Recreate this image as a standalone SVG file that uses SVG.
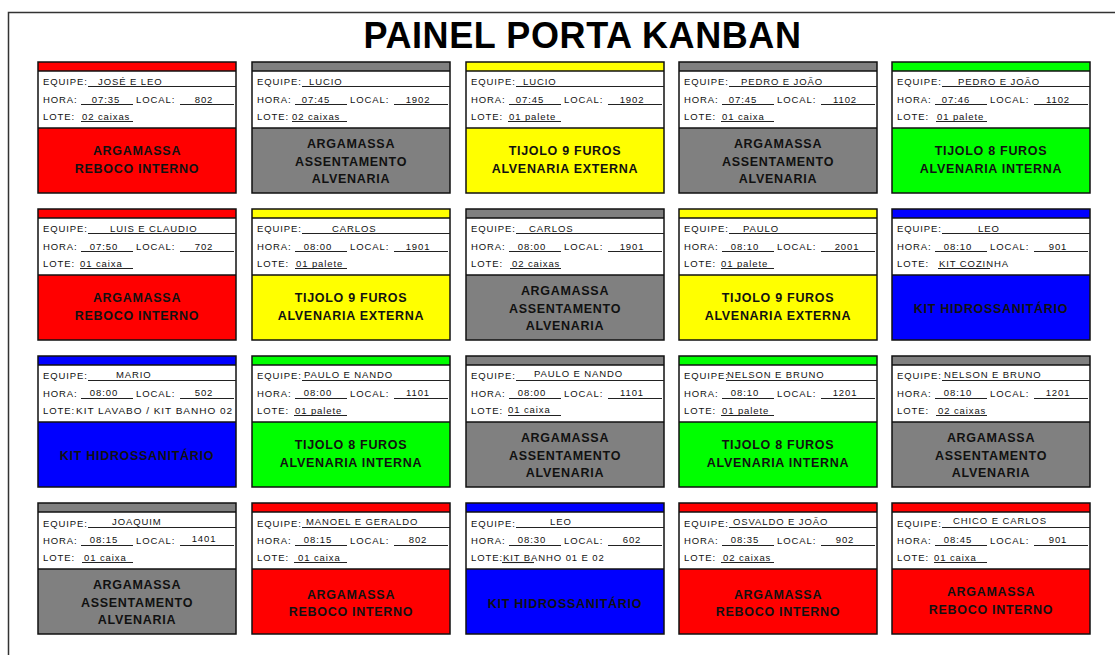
<svg xmlns="http://www.w3.org/2000/svg" width="1115" height="655" viewBox="0 0 1115 655">
<style>
.bg{fill:#fff}
.frame{fill:none;stroke:#111;stroke-width:1.5}
.outer{fill:none;stroke:#333;stroke-width:1.5}
.sep{stroke:#111;stroke-width:1.3}
.ul{stroke:#222;stroke-width:1.1}
.white{fill:#fff}
.red{fill:#ff0000}
.gray{fill:#808080}
.yellow{fill:#ffff00}
.green{fill:#00ff00}
.blue{fill:#0000ff}
.title{font-family:"Liberation Sans",Arial,sans-serif;font-weight:bold;font-size:36px;letter-spacing:0.6px;fill:#000;text-anchor:middle}
.t{font-family:"Liberation Sans",Arial,sans-serif;font-size:9.5px;letter-spacing:0.9px;fill:#111}
.m{text-anchor:middle}
.b{font-family:"Liberation Sans",Arial,sans-serif;font-weight:bold;font-size:12.5px;letter-spacing:0.7px;fill:#111;text-anchor:middle}
</style>
<rect class="bg" x="0" y="0" width="1115" height="655"/>
<path class="outer" d="M8.5,655 V12.5 H1115"/>
<text class="title" x="582.5" y="48">PAINEL PORTA KANBAN</text>
<g id="connectors"/>

<!-- Row 1 -->
<g id="card-r1c1" transform="translate(38,62)">
<rect class="red" width="198" height="9"/><rect class="white" y="9" width="198" height="57"/><rect class="red" y="66" width="198" height="65"/>
<line class="sep" x1="0" y1="9" x2="198" y2="9"/><line class="sep" x1="0" y1="66" x2="198" y2="66"/><rect class="frame" width="198" height="131"/>
<text class="t" x="5" y="22.5">EQUIPE:</text><text class="t" x="60" y="22.5">JOSÉ E LEO</text><line class="ul" x1="50" y1="24.5" x2="198" y2="24.5"/>
<text class="t" x="5" y="40.5">HORA:</text><text class="t m" x="68" y="40.5">07:35</text><line class="ul" x1="43" y1="42.5" x2="95" y2="42.5"/>
<text class="t" x="98" y="40.5">LOCAL:</text><text class="t m" x="166" y="40.5">802</text><line class="ul" x1="142" y1="42.5" x2="196" y2="42.5"/>
<text class="t" x="5" y="57.5">LOTE:</text><text class="t" x="44" y="57.5">02 caixas</text><line class="ul" x1="43" y1="59.5" x2="95" y2="59.5"/>
<text class="b" x="99" y="93">ARGAMASSA</text><text class="b" x="99" y="111">REBOCO INTERNO</text>
</g>
<g id="card-r1c2" transform="translate(252,62)">
<rect class="gray" width="198" height="9"/><rect class="white" y="9" width="198" height="57"/><rect class="gray" y="66" width="198" height="65"/>
<line class="sep" x1="0" y1="9" x2="198" y2="9"/><line class="sep" x1="0" y1="66" x2="198" y2="66"/><rect class="frame" width="198" height="131"/>
<text class="t" x="5" y="22.5">EQUIPE:</text><text class="t" x="57" y="22.5">LUCIO</text><line class="ul" x1="50" y1="24.5" x2="198" y2="24.5"/>
<text class="t" x="5" y="40.5">HORA:</text><text class="t m" x="64" y="40.5">07:45</text><line class="ul" x1="43" y1="42.5" x2="95" y2="42.5"/>
<text class="t" x="98" y="40.5">LOCAL:</text><text class="t m" x="166" y="40.5">1902</text><line class="ul" x1="142" y1="42.5" x2="196" y2="42.5"/>
<text class="t" x="5" y="57.5">LOTE:</text><text class="t" x="40" y="57.5">02 caixas</text><line class="ul" x1="40" y1="59.5" x2="95" y2="59.5"/>
<text class="b" x="99" y="86">ARGAMASSA</text><text class="b" x="99" y="104">ASSENTAMENTO</text><text class="b" x="99" y="121">ALVENARIA</text>
</g>
<g id="card-r1c3" transform="translate(466,62)">
<rect class="yellow" width="198" height="9"/><rect class="white" y="9" width="198" height="57"/><rect class="yellow" y="66" width="198" height="65"/>
<line class="sep" x1="0" y1="9" x2="198" y2="9"/><line class="sep" x1="0" y1="66" x2="198" y2="66"/><rect class="frame" width="198" height="131"/>
<text class="t" x="5" y="22.5">EQUIPE:</text><text class="t" x="57" y="22.5">LUCIO</text><line class="ul" x1="50" y1="24.5" x2="198" y2="24.5"/>
<text class="t" x="5" y="40.5">HORA:</text><text class="t m" x="64" y="40.5">07:45</text><line class="ul" x1="43" y1="42.5" x2="95" y2="42.5"/>
<text class="t" x="98" y="40.5">LOCAL:</text><text class="t m" x="166" y="40.5">1902</text><line class="ul" x1="142" y1="42.5" x2="196" y2="42.5"/>
<text class="t" x="5" y="57.5">LOTE:</text><text class="t" x="43" y="57.5">01 palete</text><line class="ul" x1="42" y1="59.5" x2="95" y2="59.5"/>
<text class="b" x="99" y="93">TIJOLO 9 FUROS</text><text class="b" x="99" y="111">ALVENARIA EXTERNA</text>
</g>
<g id="card-r1c4" transform="translate(679,62)">
<rect class="gray" width="198" height="9"/><rect class="white" y="9" width="198" height="57"/><rect class="gray" y="66" width="198" height="65"/>
<line class="sep" x1="0" y1="9" x2="198" y2="9"/><line class="sep" x1="0" y1="66" x2="198" y2="66"/><rect class="frame" width="198" height="131"/>
<text class="t" x="5" y="22.5">EQUIPE:</text><text class="t" x="62" y="22.5">PEDRO E JOÃO</text><line class="ul" x1="50" y1="24.5" x2="198" y2="24.5"/>
<text class="t" x="5" y="40.5">HORA:</text><text class="t m" x="64" y="40.5">07:45</text><line class="ul" x1="43" y1="42.5" x2="95" y2="42.5"/>
<text class="t" x="98" y="40.5">LOCAL:</text><text class="t m" x="166" y="40.5">1102</text><line class="ul" x1="142" y1="42.5" x2="196" y2="42.5"/>
<text class="t" x="5" y="57.5">LOTE:</text><text class="t" x="43" y="57.5">01 caixa</text><line class="ul" x1="42" y1="59.5" x2="95" y2="59.5"/>
<text class="b" x="99" y="86">ARGAMASSA</text><text class="b" x="99" y="104">ASSENTAMENTO</text><text class="b" x="99" y="121">ALVENARIA</text>
</g>
<g id="card-r1c5" transform="translate(892,62)">
<rect class="green" width="198" height="9"/><rect class="white" y="9" width="198" height="57"/><rect class="green" y="66" width="198" height="65"/>
<line class="sep" x1="0" y1="9" x2="198" y2="9"/><line class="sep" x1="0" y1="66" x2="198" y2="66"/><rect class="frame" width="198" height="131"/>
<text class="t" x="5" y="22.5">EQUIPE:</text><text class="t" x="66" y="22.5">PEDRO E JOÃO</text><line class="ul" x1="50" y1="24.5" x2="198" y2="24.5"/>
<text class="t" x="5" y="40.5">HORA:</text><text class="t m" x="64" y="40.5">07:46</text><line class="ul" x1="43" y1="42.5" x2="95" y2="42.5"/>
<text class="t" x="98" y="40.5">LOCAL:</text><text class="t m" x="166" y="40.5">1102</text><line class="ul" x1="142" y1="42.5" x2="196" y2="42.5"/>
<text class="t" x="5" y="57.5">LOTE:</text><text class="t" x="45" y="57.5">01 palete</text><line class="ul" x1="44" y1="59.5" x2="95" y2="59.5"/>
<text class="b" x="99" y="93">TIJOLO 8 FUROS</text><text class="b" x="99" y="111">ALVENARIA INTERNA</text>
</g>

<!-- Row 2 -->
<g id="card-r2c1" transform="translate(38,209)">
<rect class="red" width="198" height="9"/><rect class="white" y="9" width="198" height="57"/><rect class="red" y="66" width="198" height="65"/>
<line class="sep" x1="0" y1="9" x2="198" y2="9"/><line class="sep" x1="0" y1="66" x2="198" y2="66"/><rect class="frame" width="198" height="131"/>
<text class="t" x="5" y="22.5">EQUIPE:</text><text class="t" x="72" y="22.5">LUIS E CLAUDIO</text><line class="ul" x1="50" y1="24.5" x2="198" y2="24.5"/>
<text class="t" x="5" y="40.5">HORA:</text><text class="t m" x="66" y="40.5">07:50</text><line class="ul" x1="43" y1="42.5" x2="95" y2="42.5"/>
<text class="t" x="98" y="40.5">LOCAL:</text><text class="t m" x="166" y="40.5">702</text><line class="ul" x1="142" y1="42.5" x2="196" y2="42.5"/>
<text class="t" x="5" y="57.5">LOTE:</text><text class="t" x="42" y="57.5">01 caixa</text><line class="ul" x1="42" y1="59.5" x2="95" y2="59.5"/>
<text class="b" x="99" y="93">ARGAMASSA</text><text class="b" x="99" y="111">REBOCO INTERNO</text>
</g>
<g id="card-r2c2" transform="translate(252,209)">
<rect class="yellow" width="198" height="9"/><rect class="white" y="9" width="198" height="57"/><rect class="yellow" y="66" width="198" height="65"/>
<line class="sep" x1="0" y1="9" x2="198" y2="9"/><line class="sep" x1="0" y1="66" x2="198" y2="66"/><rect class="frame" width="198" height="131"/>
<text class="t" x="5" y="22.5">EQUIPE:</text><text class="t" x="80" y="22.5">CARLOS</text><line class="ul" x1="50" y1="24.5" x2="198" y2="24.5"/>
<text class="t" x="5" y="40.5">HORA:</text><text class="t m" x="66" y="40.5">08:00</text><line class="ul" x1="43" y1="42.5" x2="95" y2="42.5"/>
<text class="t" x="98" y="40.5">LOCAL:</text><text class="t m" x="166" y="40.5">1901</text><line class="ul" x1="142" y1="42.5" x2="196" y2="42.5"/>
<text class="t" x="5" y="57.5">LOTE:</text><text class="t" x="44" y="57.5">01 palete</text><line class="ul" x1="43" y1="59.5" x2="95" y2="59.5"/>
<text class="b" x="99" y="93">TIJOLO 9 FUROS</text><text class="b" x="99" y="111">ALVENARIA EXTERNA</text>
</g>
<g id="card-r2c3" transform="translate(466,209)">
<rect class="gray" width="198" height="9"/><rect class="white" y="9" width="198" height="57"/><rect class="gray" y="66" width="198" height="65"/>
<line class="sep" x1="0" y1="9" x2="198" y2="9"/><line class="sep" x1="0" y1="66" x2="198" y2="66"/><rect class="frame" width="198" height="131"/>
<text class="t" x="5" y="22.5">EQUIPE:</text><text class="t" x="63" y="22.5">CARLOS</text><line class="ul" x1="50" y1="24.5" x2="198" y2="24.5"/>
<text class="t" x="5" y="40.5">HORA:</text><text class="t m" x="66" y="40.5">08:00</text><line class="ul" x1="43" y1="42.5" x2="95" y2="42.5"/>
<text class="t" x="98" y="40.5">LOCAL:</text><text class="t m" x="166" y="40.5">1901</text><line class="ul" x1="142" y1="42.5" x2="196" y2="42.5"/>
<text class="t" x="5" y="57.5">LOTE:</text><text class="t" x="46" y="57.5">02 caixas</text><line class="ul" x1="44" y1="59.5" x2="95" y2="59.5"/>
<text class="b" x="99" y="86">ARGAMASSA</text><text class="b" x="99" y="104">ASSENTAMENTO</text><text class="b" x="99" y="121">ALVENARIA</text>
</g>
<g id="card-r2c4" transform="translate(679,209)">
<rect class="yellow" width="198" height="9"/><rect class="white" y="9" width="198" height="57"/><rect class="yellow" y="66" width="198" height="65"/>
<line class="sep" x1="0" y1="9" x2="198" y2="9"/><line class="sep" x1="0" y1="66" x2="198" y2="66"/><rect class="frame" width="198" height="131"/>
<text class="t" x="5" y="22.5">EQUIPE:</text><text class="t" x="64" y="22.5">PAULO</text><line class="ul" x1="50" y1="24.5" x2="198" y2="24.5"/>
<text class="t" x="5" y="40.5">HORA:</text><text class="t m" x="66" y="40.5">08:10</text><line class="ul" x1="43" y1="42.5" x2="95" y2="42.5"/>
<text class="t" x="98" y="40.5">LOCAL:</text><text class="t m" x="168" y="40.5">2001</text><line class="ul" x1="142" y1="42.5" x2="196" y2="42.5"/>
<text class="t" x="5" y="57.5">LOTE:</text><text class="t" x="42" y="57.5">01 palete</text><line class="ul" x1="42" y1="59.5" x2="95" y2="59.5"/>
<text class="b" x="99" y="93">TIJOLO 9 FUROS</text><text class="b" x="99" y="111">ALVENARIA EXTERNA</text>
</g>
<g id="card-r2c5" transform="translate(892,209)">
<rect class="blue" width="198" height="9"/><rect class="white" y="9" width="198" height="57"/><rect class="blue" y="66" width="198" height="65"/>
<line class="sep" x1="0" y1="9" x2="198" y2="9"/><line class="sep" x1="0" y1="66" x2="198" y2="66"/><rect class="frame" width="198" height="131"/>
<text class="t" x="5" y="22.5">EQUIPE:</text><text class="t" x="86" y="22.5">LEO</text><line class="ul" x1="50" y1="24.5" x2="198" y2="24.5"/>
<text class="t" x="5" y="40.5">HORA:</text><text class="t m" x="66" y="40.5">08:10</text><line class="ul" x1="43" y1="42.5" x2="95" y2="42.5"/>
<text class="t" x="98" y="40.5">LOCAL:</text><text class="t m" x="166" y="40.5">901</text><line class="ul" x1="142" y1="42.5" x2="196" y2="42.5"/>
<text class="t" x="5" y="57.5">LOTE:</text><text class="t" x="47" y="57.5">KIT COZINHA</text><line class="ul" x1="46" y1="59.5" x2="98" y2="59.5"/>
<text class="b" x="99" y="104">KIT HIDROSSANITÁRIO</text>
</g>

<!-- Row 3 -->
<g id="card-r3c1" transform="translate(38,356)">
<rect class="blue" width="198" height="9"/><rect class="white" y="9" width="198" height="57"/><rect class="blue" y="66" width="198" height="65"/>
<line class="sep" x1="0" y1="9" x2="198" y2="9"/><line class="sep" x1="0" y1="66" x2="198" y2="66"/><rect class="frame" width="198" height="131"/>
<text class="t" x="5" y="22.5">EQUIPE:</text><text class="t" x="78" y="21.5">MARIO</text><line class="ul" x1="50" y1="24.5" x2="198" y2="24.5"/>
<text class="t" x="5" y="40.5">HORA:</text><text class="t m" x="66" y="39.5">08:00</text><line class="ul" x1="43" y1="42.5" x2="95" y2="42.5"/>
<text class="t" x="98" y="40.5">LOCAL:</text><text class="t m" x="166" y="39.5">502</text><line class="ul" x1="142" y1="42.5" x2="196" y2="42.5"/>
<text class="t" x="5" y="57.5">LOTE:</text><text class="t" x="38" y="57.5" textLength="157" lengthAdjust="spacingAndGlyphs">KIT LAVABO / KIT BANHO 02</text>
<text class="b" x="99" y="104">KIT HIDROSSANITÁRIO</text>
</g>
<g id="card-r3c2" transform="translate(252,356)">
<rect class="green" width="198" height="9"/><rect class="white" y="9" width="198" height="57"/><rect class="green" y="66" width="198" height="65"/>
<line class="sep" x1="0" y1="9" x2="198" y2="9"/><line class="sep" x1="0" y1="66" x2="198" y2="66"/><rect class="frame" width="198" height="131"/>
<text class="t" x="5" y="22.5">EQUIPE:</text><text class="t" x="52" y="21.5">PAULO E NANDO</text><line class="ul" x1="50" y1="24.5" x2="198" y2="24.5"/>
<text class="t" x="5" y="40.5">HORA:</text><text class="t m" x="66" y="39.5">08:00</text><line class="ul" x1="43" y1="42.5" x2="95" y2="42.5"/>
<text class="t" x="98" y="40.5">LOCAL:</text><text class="t m" x="166" y="39.5">1101</text><line class="ul" x1="142" y1="42.5" x2="196" y2="42.5"/>
<text class="t" x="5" y="57.5">LOTE:</text><text class="t" x="43" y="57.5">01 palete</text><line class="ul" x1="42" y1="59.5" x2="95" y2="59.5"/>
<text class="b" x="99" y="93">TIJOLO 8 FUROS</text><text class="b" x="99" y="111">ALVENARIA INTERNA</text>
</g>
<g id="card-r3c3" transform="translate(466,356)">
<rect class="gray" width="198" height="9"/><rect class="white" y="9" width="198" height="57"/><rect class="gray" y="66" width="198" height="65"/>
<line class="sep" x1="0" y1="9" x2="198" y2="9"/><line class="sep" x1="0" y1="66" x2="198" y2="66"/><rect class="frame" width="198" height="131"/>
<text class="t" x="5" y="22.5">EQUIPE:</text><text class="t" x="68" y="20.5">PAULO E NANDO</text><line class="ul" x1="50" y1="24.5" x2="198" y2="24.5"/>
<text class="t" x="5" y="40.5">HORA:</text><text class="t m" x="66" y="39.5">08:00</text><line class="ul" x1="43" y1="42.5" x2="95" y2="42.5"/>
<text class="t" x="98" y="40.5">LOCAL:</text><text class="t m" x="166" y="39.5">1101</text><line class="ul" x1="142" y1="42.5" x2="196" y2="42.5"/>
<text class="t" x="5" y="57.5">LOTE:</text><text class="t" x="42" y="56.5">01 caixa</text><line class="ul" x1="42" y1="59.5" x2="95" y2="59.5"/>
<text class="b" x="99" y="86">ARGAMASSA</text><text class="b" x="99" y="104">ASSENTAMENTO</text><text class="b" x="99" y="121">ALVENARIA</text>
</g>
<g id="card-r3c4" transform="translate(679,356)">
<rect class="green" width="198" height="9"/><rect class="white" y="9" width="198" height="57"/><rect class="green" y="66" width="198" height="65"/>
<line class="sep" x1="0" y1="9" x2="198" y2="9"/><line class="sep" x1="0" y1="66" x2="198" y2="66"/><rect class="frame" width="198" height="131"/>
<text class="t" x="5" y="22.5">EQUIPE:</text><text class="t" x="48" y="22" letter-spacing="0.5">NELSON E BRUNO</text><line class="ul" x1="47" y1="24.5" x2="198" y2="24.5"/>
<text class="t" x="5" y="40.5">HORA:</text><text class="t m" x="66" y="39.5">08:10</text><line class="ul" x1="43" y1="42.5" x2="95" y2="42.5"/>
<text class="t" x="98" y="40.5">LOCAL:</text><text class="t m" x="166" y="39.5">1201</text><line class="ul" x1="142" y1="42.5" x2="196" y2="42.5"/>
<text class="t" x="5" y="57.5">LOTE:</text><text class="t" x="43" y="57.5">01 palete</text><line class="ul" x1="42" y1="59.5" x2="95" y2="59.5"/>
<text class="b" x="99" y="93">TIJOLO 8 FUROS</text><text class="b" x="99" y="111">ALVENARIA INTERNA</text>
</g>
<g id="card-r3c5" transform="translate(892,356)">
<rect class="gray" width="198" height="9"/><rect class="white" y="9" width="198" height="57"/><rect class="gray" y="66" width="198" height="65"/>
<line class="sep" x1="0" y1="9" x2="198" y2="9"/><line class="sep" x1="0" y1="66" x2="198" y2="66"/><rect class="frame" width="198" height="131"/>
<text class="t" x="5" y="22.5">EQUIPE:</text><text class="t" x="52" y="21.5">NELSON E BRUNO</text><line class="ul" x1="50" y1="24.5" x2="198" y2="24.5"/>
<text class="t" x="5" y="40.5">HORA:</text><text class="t m" x="66" y="39.5">08:10</text><line class="ul" x1="43" y1="42.5" x2="95" y2="42.5"/>
<text class="t" x="98" y="40.5">LOCAL:</text><text class="t m" x="166" y="39.5">1201</text><line class="ul" x1="142" y1="42.5" x2="196" y2="42.5"/>
<text class="t" x="5" y="57.5">LOTE:</text><text class="t" x="46" y="57.5">02 caixas</text><line class="ul" x1="44" y1="59.5" x2="95" y2="59.5"/>
<text class="b" x="99" y="86">ARGAMASSA</text><text class="b" x="99" y="104">ASSENTAMENTO</text><text class="b" x="99" y="121">ALVENARIA</text>
</g>

<!-- Row 4 -->
<g id="card-r4c1" transform="translate(38,503)">
<rect class="gray" width="198" height="9"/><rect class="white" y="9" width="198" height="57"/><rect class="gray" y="66" width="198" height="65"/>
<line class="sep" x1="0" y1="9" x2="198" y2="9"/><line class="sep" x1="0" y1="66" x2="198" y2="66"/><rect class="frame" width="198" height="131"/>
<text class="t" x="5" y="23.5">EQUIPE:</text><text class="t" x="74" y="21.5">JOAQUIM</text><line class="ul" x1="50" y1="24.5" x2="198" y2="24.5"/>
<text class="t" x="5" y="40.5">HORA:</text><text class="t m" x="66" y="39.5">08:15</text><line class="ul" x1="43" y1="42.5" x2="95" y2="42.5"/>
<text class="t" x="98" y="40.5">LOCAL:</text><text class="t m" x="166" y="38.5">1401</text><line class="ul" x1="142" y1="42.5" x2="196" y2="42.5"/>
<text class="t" x="5" y="57.5">LOTE:</text><text class="t" x="46" y="57.5">01 caixa</text><line class="ul" x1="44" y1="59.5" x2="95" y2="59.5"/>
<text class="b" x="99" y="86">ARGAMASSA</text><text class="b" x="99" y="104">ASSENTAMENTO</text><text class="b" x="99" y="121">ALVENARIA</text>
</g>
<g id="card-r4c2" transform="translate(252,503)">
<rect class="red" width="198" height="9"/><rect class="white" y="9" width="198" height="57"/><rect class="red" y="66" width="198" height="65"/>
<line class="sep" x1="0" y1="9" x2="198" y2="9"/><line class="sep" x1="0" y1="66" x2="198" y2="66"/><rect class="frame" width="198" height="131"/>
<text class="t" x="5" y="23.5">EQUIPE:</text><text class="t" x="54" y="21.5">MANOEL E GERALDO</text><line class="ul" x1="50" y1="24.5" x2="198" y2="24.5"/>
<text class="t" x="5" y="40.5">HORA:</text><text class="t m" x="66" y="39.5">08:15</text><line class="ul" x1="43" y1="42.5" x2="95" y2="42.5"/>
<text class="t" x="98" y="40.5">LOCAL:</text><text class="t m" x="166" y="39.5">802</text><line class="ul" x1="142" y1="42.5" x2="196" y2="42.5"/>
<text class="t" x="5" y="57.5">LOTE:</text><text class="t" x="46" y="57.5">01 caixa</text><line class="ul" x1="42" y1="59.5" x2="95" y2="59.5"/>
<text class="b" x="99" y="96">ARGAMASSA</text><text class="b" x="99" y="113">REBOCO INTERNO</text>
</g>
<g id="card-r4c3" transform="translate(466,503)">
<rect class="blue" width="198" height="9"/><rect class="white" y="9" width="198" height="57"/><rect class="blue" y="66" width="198" height="65"/>
<line class="sep" x1="0" y1="9" x2="198" y2="9"/><line class="sep" x1="0" y1="66" x2="198" y2="66"/><rect class="frame" width="198" height="131"/>
<text class="t" x="5" y="23.5">EQUIPE:</text><text class="t" x="84" y="21.5">LEO</text><line class="ul" x1="50" y1="24.5" x2="198" y2="24.5"/>
<text class="t" x="5" y="40.5">HORA:</text><text class="t m" x="66" y="39.5">08:30</text><line class="ul" x1="43" y1="42.5" x2="95" y2="42.5"/>
<text class="t" x="98" y="40.5">LOCAL:</text><text class="t m" x="166" y="39.5">602</text><line class="ul" x1="142" y1="42.5" x2="196" y2="42.5"/>
<text class="t" x="5" y="57.5">LOTE:</text><text class="t" x="37" y="57.5">KIT BANHO 01 E 02</text><line class="ul" x1="36" y1="59.5" x2="68" y2="59.5"/>
<text class="b" x="99" y="105">KIT HIDROSSANITÁRIO</text>
</g>
<g id="card-r4c4" transform="translate(679,503)">
<rect class="red" width="198" height="9"/><rect class="white" y="9" width="198" height="57"/><rect class="red" y="66" width="198" height="65"/>
<line class="sep" x1="0" y1="9" x2="198" y2="9"/><line class="sep" x1="0" y1="66" x2="198" y2="66"/><rect class="frame" width="198" height="131"/>
<text class="t" x="5" y="23.5">EQUIPE:</text><text class="t" x="54" y="21.5">OSVALDO E JOÃO</text><line class="ul" x1="50" y1="24.5" x2="198" y2="24.5"/>
<text class="t" x="5" y="40.5">HORA:</text><text class="t m" x="66" y="39.5">08:35</text><line class="ul" x1="43" y1="42.5" x2="95" y2="42.5"/>
<text class="t" x="98" y="40.5">LOCAL:</text><text class="t m" x="166" y="39.5">902</text><line class="ul" x1="142" y1="42.5" x2="196" y2="42.5"/>
<text class="t" x="5" y="57.5">LOTE:</text><text class="t" x="44" y="57.5">02 caixas</text><line class="ul" x1="42" y1="59.5" x2="95" y2="59.5"/>
<text class="b" x="99" y="96">ARGAMASSA</text><text class="b" x="99" y="113">REBOCO INTERNO</text>
</g>
<g id="card-r4c5" transform="translate(892,503)">
<rect class="red" width="198" height="9"/><rect class="white" y="9" width="198" height="57"/><rect class="red" y="66" width="198" height="65"/>
<line class="sep" x1="0" y1="9" x2="198" y2="9"/><line class="sep" x1="0" y1="66" x2="198" y2="66"/><rect class="frame" width="198" height="131"/>
<text class="t" x="5" y="23.5">EQUIPE:</text><text class="t" x="61" y="20.5">CHICO E CARLOS</text><line class="ul" x1="50" y1="24.5" x2="198" y2="24.5"/>
<text class="t" x="5" y="40.5">HORA:</text><text class="t m" x="66" y="39.5">08:45</text><line class="ul" x1="43" y1="42.5" x2="95" y2="42.5"/>
<text class="t" x="98" y="40.5">LOCAL:</text><text class="t m" x="166" y="39.5">901</text><line class="ul" x1="142" y1="42.5" x2="196" y2="42.5"/>
<text class="t" x="5" y="57.5">LOTE:</text><text class="t" x="42" y="57.5">01 caixa</text><line class="ul" x1="42" y1="59.5" x2="95" y2="59.5"/>
<text class="b" x="99" y="93">ARGAMASSA</text><text class="b" x="99" y="111">REBOCO INTERNO</text>
</g>
</svg>
